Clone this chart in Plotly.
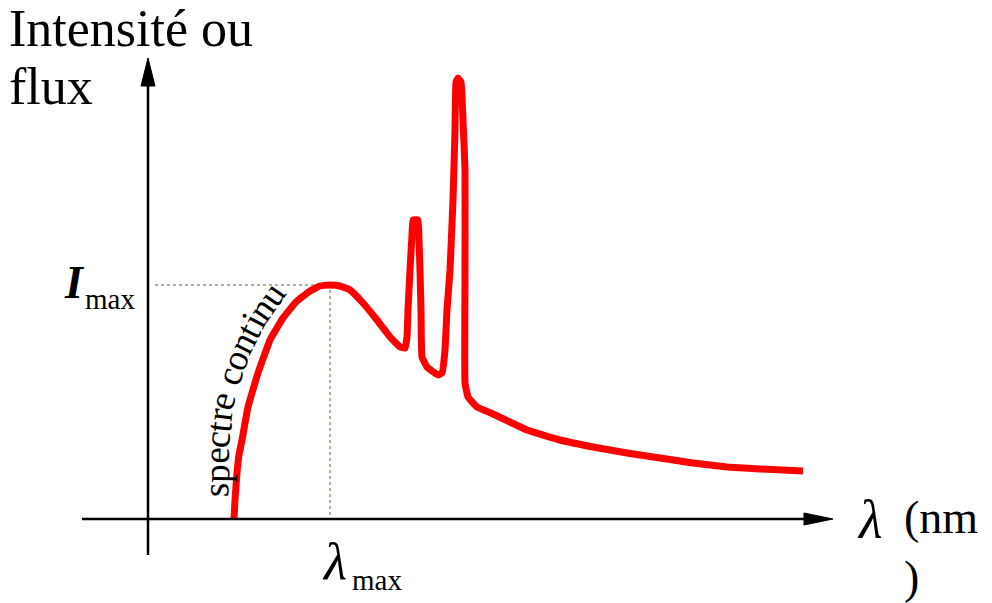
import math
import plotly.graph_objects as go

# ---- data (arbitrary units: wavelength, intensity) ----
wavelength = [86, 87, 89, 91, 94, 100, 110, 122, 135, 148,
              162, 172, 182, 192, 202, 215, 229, 242, 252, 257,
              259, 260, 262, 264, 265, 270, 271, 272, 273, 274,
              279, 284, 290, 294, 297, 299, 302, 305, 307, 308,
              310, 313, 315, 317, 317, 317, 320, 329, 345, 362,
              379, 412, 445, 479, 512, 545, 579, 612, 655]
intensity = [0, 19, 46, 64, 79, 112, 146, 179, 201, 217,
             228, 233, 234, 233, 229, 216, 199, 182, 172, 171,
             182, 209, 249, 284, 299, 299, 279, 249, 209, 162,
             152, 148, 144, 146, 169, 209, 249, 319, 389, 437,
             441, 437, 399, 349, 249, 136, 122, 112, 105, 97,
             89, 79, 72, 66, 61, 56, 52, 50, 48]

label_y = "Intensité ou"
label_y2 = "flux"
label_x = "(nm<br>)"
curve_label = "spectre continu"

# origin of the sketch axes in pixels (for layout only)
OX, OY = 148, 519
W, H = 992, 603


def P(px, py):
    return px - OX, OY - py


# peak of the continuum (before the emission lines)
cont = intensity[:20]
imax_idx = cont.index(max(cont))
lam_max = wavelength[imax_idx]
i_max = intensity[imax_idx]

fig = go.Figure()

# dotted guides
fig.add_trace(go.Scatter(x=[P(155, 0)[0], lam_max, lam_max], y=[i_max, i_max, 0], mode="lines",
                         line=dict(color="#5a6b3a", width=1, dash="dot"), hoverinfo="skip"))

# spectrum curve
fig.add_trace(go.Scatter(x=wavelength, y=intensity, mode="lines",
                         line=dict(color="#ff0000", width=7, shape="spline", smoothing=0.3),
                         hoverinfo="skip"))

shapes = []
# axes lines
x0, y0 = P(148, 555)
x1, y1 = P(148, 84)
shapes.append(dict(type="line", x0=x0, y0=y0, x1=x1, y1=y1, line=dict(color="black", width=2.5)))
x0, y0 = P(82, 519)
x1, y1 = P(806, 519)
shapes.append(dict(type="line", x0=x0, y0=y0, x1=x1, y1=y1, line=dict(color="black", width=2.5)))
# arrow heads
a = P(148, 58); b = P(141, 86); c = P(155, 86)
shapes.append(dict(type="path", path=f"M {a[0]},{a[1]} L {b[0]},{b[1]} L {c[0]},{c[1]} Z",
                   fillcolor="black", line=dict(color="black", width=1)))
a = P(833, 519); b = P(804, 513); c = P(804, 525)
shapes.append(dict(type="path", path=f"M {a[0]},{a[1]} L {b[0]},{b[1]} L {c[0]},{c[1]} Z",
                   fillcolor="black", line=dict(color="black", width=1)))

SERIF = "Liberation Serif"
ann = []


def text(px, py, t, size, xanchor="left", yanchor="middle", italic=False, bold=False, angle=0):
    if italic:
        t = f"<i>{t}</i>"
    if bold:
        t = f"<b>{t}</b>"
    x, y = P(px, py)
    ann.append(dict(x=x, y=y, xref="x", yref="y", text=t, showarrow=False, xanchor=xanchor,
                    yanchor=yanchor, textangle=angle, align="left",
                    font=dict(family=SERIF, size=size, color="black"), borderpad=0))


text(8, 28, label_y, 52)
text(8, 86, label_y2, 52)
text(63, 282, "I", 46, italic=True, bold=True)
text(84, 299, "max", 29)
text(321, 561, "λ", 53, italic=True)
text(351, 580, "max", 29)
text(856, 520, "λ", 54, italic=True)
text(903, 547, label_x, 46, yanchor="middle")

# curved label along the continuum
path_px = [(216, 497), (217, 440), (221, 405), (229, 376), (242, 343), (255, 318), (277, 286)]
widths = {"s": .389, "p": .5, "e": .444, "c": .444, "t": .278, "r": .333, " ": .25, "o": .5,
          "n": .5, "i": .278, "u": .5}
fs = 37
seg = []
total = 0
for (ax_, ay_), (bx_, by_) in zip(path_px[:-1], path_px[1:]):
    L = math.hypot(bx_ - ax_, by_ - ay_)
    seg.append((ax_, ay_, bx_, by_, total, L))
    total += L


def at(s):
    for ax_, ay_, bx_, by_, s0, L in seg:
        if s <= s0 + L or (bx_, by_) == path_px[-1]:
            f = (s - s0) / L
            return ax_ + f * (bx_ - ax_), ay_ + f * (by_ - ay_), math.degrees(math.atan2(by_ - ay_, bx_ - ax_))


s = 0
for ch in curve_label:
    w = widths[ch] * fs
    if ch != " ":
        px, py, ang = at(s + w / 2)
        text(px, py, ch, fs, xanchor="center", yanchor="middle", angle=ang)
    s += w

fig.update_layout(
    width=W, height=H, margin=dict(l=0, r=0, t=0, b=0),
    paper_bgcolor="white", plot_bgcolor="white", showlegend=False,
    xaxis=dict(range=[-OX, W - OX], visible=False, fixedrange=True),
    yaxis=dict(range=[OY - H, OY], visible=False, fixedrange=True),
    shapes=shapes, annotations=ann, hovermode=False,
)
fig.write_html("out.html", config={"displayModeBar": False},
               post_script="document.body.style.margin='0';document.body.style.overflow='hidden';")
